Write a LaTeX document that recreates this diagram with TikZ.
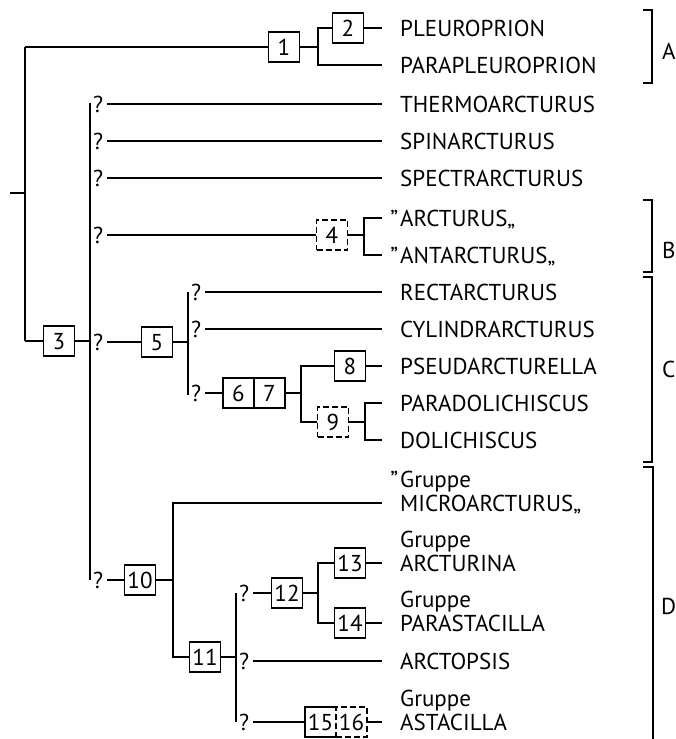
\documentclass[tikz,border=0pt]{standalone}
\usepackage{fontspec}
\setmainfont{PT Sans}
\begin{document}
\begin{tikzpicture}[x=1pt,y=-1pt,
  ln/.style={line width=1.6pt},
  txt/.style={font=\fontsize{23}{26}\selectfont, inner sep=0pt, text height=16pt, text depth=0pt},
  nbox/.style={txt, draw, line width=1.6pt, minimum width=31pt, minimum height=30pt},
  dbox/.style={nbox, dash pattern=on 6pt off 3pt},
  nobox/.style={txt, minimum width=31pt, minimum height=30pt},
  taxon/.style={txt, anchor=west},
  qm/.style={txt, anchor=west},
  brk/.style={line width=1.6pt}
]
\useasboundingbox (0,0) rectangle (676,739);

% ---------- taxa ----------
\node[taxon] (t1) at (400,28) {PLEUROPRION};
\node[taxon] (t2) at (400,65) {PARAPLEUROPRION};
\node[taxon] (t3) at (400,104) {THERMOARCTURUS};
\node[taxon] (t4) at (400,141) {SPINARCTURUS};
\node[taxon] (t5x) at (400,178) {SPECTRARCTURUS};
\node[taxon] (t5) at (400,218) {\llap{”\kern2pt}ARCTURUS„};
\node[taxon] (t6) at (400,255) {\llap{”\kern2pt}ANTARCTURUS„};
\node[taxon] (t7) at (400,292) {RECTARCTURUS};
\node[taxon] (t8) at (400,329) {CYLINDRARCTURUS};
\node[taxon] (t10) at (400,366) {PSEUDARCTURELLA};
\node[taxon] (t11) at (400,403) {PARADOLICHISCUS};
\node[taxon] (t12) at (400,440) {DOLICHISCUS};
\node[taxon] (g13) at (400,479) {\llap{”\kern2pt}Gruppe};
\node[taxon] (t13) at (400,503) {MICROARCTURUS„};
\node[taxon] (g14) at (400,539) {Gruppe};
\node[taxon] (t14) at (400,563) {ARCTURINA};
\node[taxon] (g15) at (400,599) {Gruppe};
\node[taxon] (t15) at (400,623) {PARASTACILLA};
\node[taxon] (t16) at (400,661) {ARCTOPSIS};
\node[taxon] (g17) at (400,698) {Gruppe};
\node[taxon] (t17) at (400,722) {ASTACILLA};

% ---------- root and group A ----------
\coordinate (r0) at (10,193);
\coordinate (rj) at (25,193);
\coordinate (rt) at (25,47);
\coordinate (rb) at (25,341);
\draw[ln] (r0) -- (rj);
\draw[ln] (rt) -- (rb);
\node[nbox] (b1) at (284,47) {1};
\draw[ln] (rt) -- (b1);
\node[nbox] (b2) at (348,28) {2};
\coordinate (f1) at (318,47);
\draw[ln] (b1) -- (f1);
\draw[ln] (b2.west) -| (f1) |- ([xshift=-18pt]t2.west);
\draw[ln] (b2) -- ([xshift=-18pt]t1.west);

% ---------- box 3 and main ? column ----------
\node[nbox] (b3) at (59,341) {3};
\draw[ln] (rb) -- (b3);
\coordinate (j3) at (90,341);
\draw[ln] (b3) -- (j3);
\coordinate (q0t) at (90,103);
\coordinate (q0b) at (90,580);
\draw[ln] (q0t) -- (q0b);

\node[qm] (qa) at (93,104) {?};
\node[qm] (qb) at (93,141) {?};
\node[qm] (qc) at (93,178) {?};
\node[qm] (qd) at (93,235) {?};
\node[qm] (qe) at (93,342) {?};
\node[qm] (qf) at (93,580) {?};
\draw[ln] ([xshift=4pt]qa.east) -- ([xshift=-18pt]t3.west);
\draw[ln] ([xshift=4pt]qb.east) -- ([xshift=-18pt]t4.west);
\draw[ln] ([xshift=4pt]qc.east) -- ([xshift=-18pt]t5x.west);

% ---------- group B ----------
\node[dbox] (b4) at (332,235) {4};
\draw[ln] ([xshift=4pt]qd.east) -- (b4);
\coordinate (f4) at (364,235);
\draw[ln] (b4) -- (f4);
\draw[ln] ([xshift=-18pt]t5.west) -| (f4) |- ([xshift=-18pt]t6.west);

% ---------- group C ----------
\node[nbox] (b5) at (157,342) {5};
\draw[ln] ([xshift=4pt]qe.east) -- (b5);
\coordinate (f5) at (188,342);
\draw[ln] (b5) -- (f5);
\coordinate (v5t) at (188,292);
\coordinate (v5b) at (188,395);
\draw[ln] (v5t) -- (v5b);
\node[qm] (qg1) at (191,292) {?};
\node[qm] (qg2) at (191,329) {?};
\node[qm] (qg3) at (191,393) {?};
\draw[ln] ([xshift=4pt]qg1.east) -- ([xshift=-18pt]t7.west);
\draw[ln] ([xshift=4pt]qg2.east) -- ([xshift=-18pt]t8.west);
\node[nbox] (b6) at (238.5,393) {6};
\node[nbox] (b7) at (269.5,393) {7};
\draw[ln] ([xshift=4pt]qg3.east) -- (b6);
\coordinate (f7) at (301,393);
\draw[ln] (b7) -- (f7);
\node[nbox] (b8) at (350,366) {8};
\node[dbox] (b9) at (333,422) {9};
\draw[ln] (b8.west) -| (f7) |- (b9.west);
\draw[ln] (b8) -- ([xshift=-18pt]t10.west);
\coordinate (f9) at (365,422);
\draw[ln] (b9) -- (f9);
\draw[ln] ([xshift=-18pt]t11.west) -| (f9) |- ([xshift=-18pt]t12.west);

% ---------- group D ----------
\node[nbox] (b10) at (140,580) {10};
\draw[ln] ([xshift=4pt]qf.east) -- (b10);
\coordinate (f10) at (173,580);
\draw[ln] (b10) -- (f10);
\node[nbox] (b11) at (205,657) {11};
\draw[ln] ([xshift=-18pt]t13.west) -| (f10) |- (b11.west);
\coordinate (f11) at (236,657);
\draw[ln] (b11) -- (f11);
\coordinate (v11t) at (236,593);
\coordinate (v11b) at (236,722);
\draw[ln] (v11t) -- (v11b);
\node[qm] (qi1) at (239,593) {?};
\node[qm] (qi2) at (239,661) {?};
\node[qm] (qi3) at (239,722) {?};
\node[nbox] (b12) at (287,593) {12};
\draw[ln] ([xshift=4pt]qi1.east) -- (b12);
\coordinate (f12) at (318,593);
\draw[ln] (b12) -- (f12);
\node[nbox] (b13) at (350,563) {13};
\node[nbox] (b14) at (350,623) {14};
\draw[ln] (b13.west) -| (f12) |- (b14.west);
\draw[ln] (b13) -- ([xshift=-18pt]t14.west);
\draw[ln] (b14) -- ([xshift=-18pt]t15.west);
\draw[ln] ([xshift=4pt]qi2.east) -- ([xshift=-18pt]t16.west);
\node[nobox] (b15) at (320.5,722) {15};
\node[dbox] (b16) at (351.5,722) {16};
\draw[ln] (b15.north east) -- (b15.north west) -- (b15.south west) -- (b15.south east);
\draw[ln] ([xshift=4pt]qi3.east) -- (b15);
\draw[ln] (b16) -- ([xshift=-18pt]t17.west);

% ---------- brackets ----------
\draw[brk] (643,10) -- (652,10) -- (652,83) -- (643,83);
\draw[brk] (643,200) -- (652,200) -- (652,272) -- (643,272);
\draw[brk] (643,277) -- (652,277) -- (652,462) -- (643,462);
\draw[brk] (643,467) -- (653,467) -- (653,739);
\node[taxon] (la) at (662,51) {A};
\node[taxon] (lb) at (662,250) {B};
\node[taxon] (lc) at (662,369) {C};
\node[taxon] (ld) at (661,606) {D};
\end{tikzpicture}
\end{document}
